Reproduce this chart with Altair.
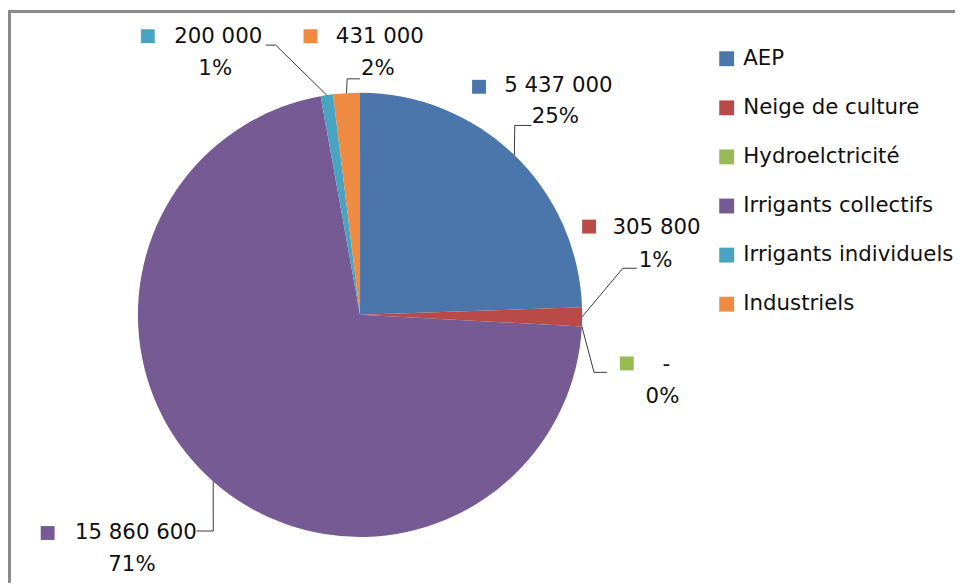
import math
import altair as alt
import pandas as pd

# ---- data ----
categories = ["AEP", "Neige de culture", "Hydroelctricité",
              "Irrigants collectifs", "Irrigants individuels", "Industriels"]
values = [5437000, 305800, 0, 15860600, 200000, 431000]
value_labels = ["5 437 000", "305 800", "-", "15 860 600", "200 000", "431 000"]
percent_labels = ["25%", "1%", "0%", "71%", "1%", "2%"]

# ---- styles ----
colors = ["#4A76AC", "#BA4A48", "#98B954", "#765A94", "#48A4C0", "#EE8A42"]
FONT = "DejaVu Sans"
FS = 21.5
W, H = 955, 577
CX, CY, R = 355, 307, 224

# ---- label layout (annotation anchors, chart pixels) ----
square_pos = [(475, 77), (586, 218), (624, 356), (40, 527), (141, 26), (305, 26)]
value_pos = [(555, 76), (654, 219), (664, 358), (129, 527), (212, 27), (375, 27)]
pct_pos = [(552, 108), (653, 253), (660, 390), (125, 559), (209, 59), (373, 59)]
leader_elbow = [(511, 116), (620, 260), (591, 365), (207, 525), (270, 35), (342, 69)]
leader_end = [(528, 116), (634, 260), (604, 365), (190, 525), (260, 35), (355, 69)]

df = pd.DataFrame({"category": categories, "value": values,
                   "idx": list(range(len(categories)))})

color_scale = alt.Scale(domain=categories, range=colors)

# leader lines: start on the slice edge at the slice mid-angle
total = float(sum(values))
rows = []
cum = 0.0
for i, (c, v) in enumerate(zip(categories, values)):
    mid = (cum + v / 2.0) / total * 2 * math.pi
    cum += v
    sx = CX + R * math.sin(mid)
    sy = CY - R * math.cos(mid)
    pts = [(sx, sy), leader_elbow[i], leader_end[i]]
    for k, (px, py) in enumerate(pts):
        rows.append({"category": c, "k": k, "px": px, "py": py})
leaders = pd.DataFrame(rows)

texts = []
for i, c in enumerate(categories):
    texts.append({"category": c, "t": value_labels[i], "px": value_pos[i][0], "py": value_pos[i][1]})
    texts.append({"category": c, "t": percent_labels[i], "px": pct_pos[i][0], "py": pct_pos[i][1]})
texts = pd.DataFrame(texts)

squares = pd.DataFrame({"category": categories,
                        "px": [p[0] for p in square_pos],
                        "py": [p[1] for p in square_pos]})

pie = alt.Chart(df).mark_arc(outerRadius=R).encode(
    theta=alt.Theta("value:Q", stack=True),
    order=alt.Order("idx:Q"),
    color=alt.Color("category:N", scale=color_scale, sort=categories,
                    legend=alt.Legend(title=None, orient="none", legendX=714, legendY=38,
                                      symbolType="square", symbolSize=225,
                                      symbolStrokeWidth=0, symbolOpacity=1,
                                      labelFont=FONT, labelFontSize=FS, labelColor="#111111",
                                      labelOffset=6, rowPadding=26.5, padding=0, labelLimit=0)),
    x=alt.value(CX), y=alt.value(CY),
)

lines = alt.Chart(leaders).mark_line(color="#3a3a3a", strokeWidth=1).encode(
    x=alt.X("px:Q", scale=None),
    y=alt.Y("py:Q", scale=None),
    detail="category:N",
    order="k:Q",
)

sq = alt.Chart(squares).mark_square(size=196, opacity=1, strokeWidth=0).encode(
    x=alt.X("px:Q", scale=None),
    y=alt.Y("py:Q", scale=None),
    color=alt.Color("category:N", scale=color_scale, legend=None),
)

txt = alt.Chart(texts).mark_text(font=FONT, fontSize=FS, color="#111111",
                                 align="center", baseline="middle").encode(
    x=alt.X("px:Q", scale=None),
    y=alt.Y("py:Q", scale=None),
    text="t:N",
)

frame_top = alt.Chart(df).mark_rule(color="#8a8a8a", strokeWidth=2.5).encode(
    x=alt.value(0), x2=alt.value(W), y=alt.value(1.25))
frame_left = alt.Chart(df).mark_rule(color="#8a8a8a", strokeWidth=2.5).encode(
    x=alt.value(1.25), y=alt.value(0), y2=alt.value(H))

chart = alt.layer(pie, lines, sq, txt, frame_top, frame_left).properties(
    width=W, height=H, autosize="none", padding=0, background="white"
).configure_view(stroke=None)

chart.save("out.html", embed_options={"renderer": "svg", "actions": False})
